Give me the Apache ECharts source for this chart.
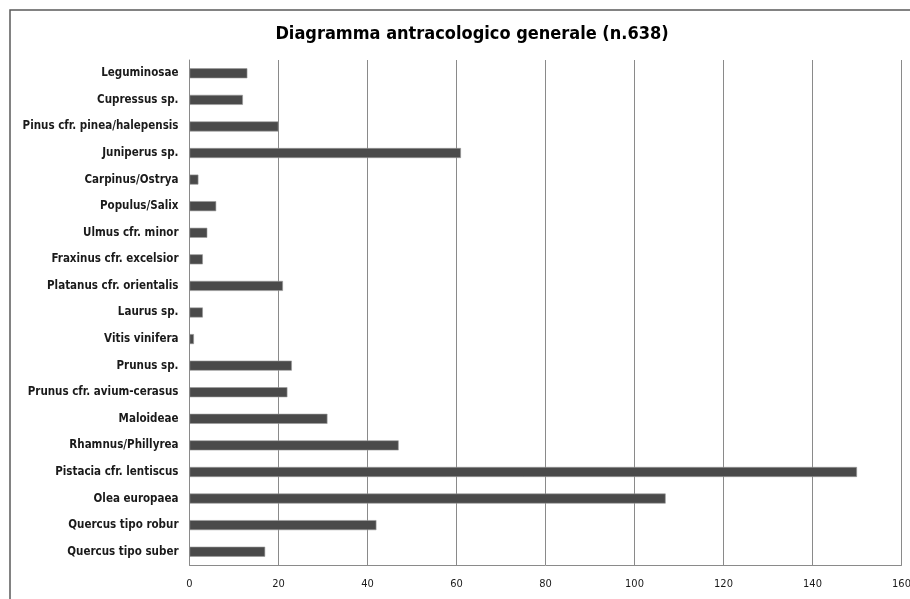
<!DOCTYPE html>
<html>
<head>
<meta charset="utf-8">
<script src="https://cdn.jsdelivr.net/npm/echarts@6/dist/echarts.min.js"></script>
<style>
  html, body { margin: 0; padding: 0; background: #ffffff; }
  #chart { width: 910px; height: 599px; }
</style>
</head>
<body>
<div id="chart"></div>
<script>
// Taxa, listed top to bottom as they appear on the chart
const taxa = [
  'Leguminosae',
  'Cupressus sp.',
  'Pinus cfr. pinea/halepensis',
  'Juniperus sp.',
  'Carpinus/Ostrya',
  'Populus/Salix',
  'Ulmus cfr. minor',
  'Fraxinus cfr. excelsior',
  'Platanus cfr. orientalis',
  'Laurus sp.',
  'Vitis vinifera',
  'Prunus sp.',
  'Prunus cfr. avium-cerasus',
  'Maloideae',
  'Rhamnus/Phillyrea',
  'Pistacia cfr. lentiscus',
  'Olea europaea',
  'Quercus tipo robur',
  'Quercus tipo suber'
];

// Fragment counts per taxon (same order as taxa)
const counts = [13, 12, 20, 61, 2, 6, 4, 3, 21, 3, 1, 23, 22, 31, 47, 150, 107, 42, 17];

// Value axis ticks
const xTicks = [0, 20, 40, 60, 80, 100, 120, 140, 160];

const titleText = 'Diagramma antracologico generale (n.638)';

const chart = echarts.init(document.getElementById('chart'), null, { renderer: 'canvas' });

// Category axis runs bottom-up in ECharts, so reverse for top-down order
const cats = taxa.slice().reverse();
const vals = counts.slice().reverse();

const fontFam = '"DejaVu Sans Condensed", "Liberation Sans", Arial, sans-serif';

chart.setOption({
  animation: false,
  backgroundColor: '#ffffff',
  title: {
    text: titleText,
    left: 467,
    top: 20,
    textAlign: 'center',
    textStyle: {
      fontFamily: fontFam,
      fontWeight: 'bold',
      fontSize: 18,
      color: '#000000'
    }
  },
  graphic: [{
    type: 'rect',
    z: -1,
    shape: { x: 10, y: 10, width: 940, height: 640 },
    style: { fill: null, stroke: '#5a5a5a', lineWidth: 1.5 }
  }],
  grid: {
    left: 189.5,
    right: 8.5,
    top: 60,
    bottom: 34,
    containLabel: false,
    outerBoundsMode: 'none'
  },
  xAxis: {
    type: 'value',
    min: xTicks[0],
    max: xTicks[xTicks.length - 1],
    interval: xTicks[1] - xTicks[0],
    axisLine: { show: true, lineStyle: { color: '#8a8a8a', width: 1 } },
    axisTick: { show: false },
    axisLabel: {
      margin: 14,
      fontFamily: fontFam,
      fontSize: 11,
      color: '#1a1a1a'
    },
    splitLine: { show: true, lineStyle: { color: '#8a8a8a', width: 1 } }
  },
  yAxis: {
    type: 'category',
    data: cats,
    axisLine: { show: true, lineStyle: { color: '#8a8a8a', width: 1 } },
    axisTick: { show: false },
    axisLabel: {
      margin: 11,
      fontFamily: fontFam,
      fontWeight: 'bold',
      fontSize: 11.5,
      color: '#1a1a1a'
    },
    splitLine: { show: false }
  },
  series: [{
    type: 'bar',
    data: vals,
    barWidth: 10,
    itemStyle: {
      color: '#4a4a4a',
      borderColor: '#9a9a9a',
      borderWidth: 0.6
    },
    silent: true
  }]
});
</script>
</body>
</html>
